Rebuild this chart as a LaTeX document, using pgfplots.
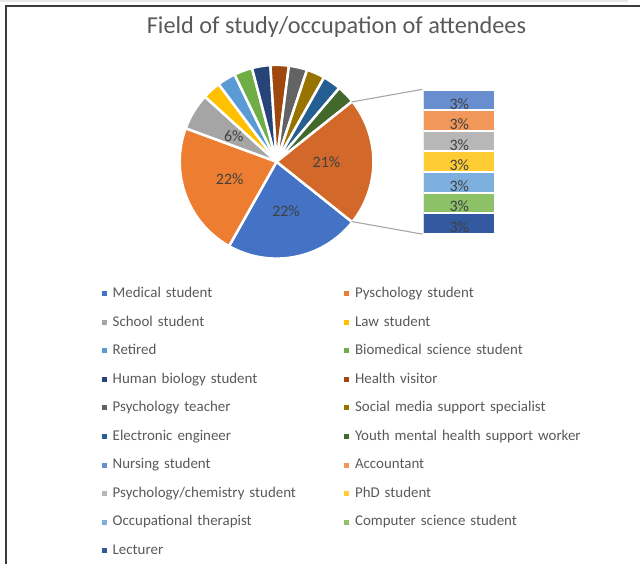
\documentclass[border=0pt]{standalone}
\usepackage{pgfplots}
\pgfplotsset{compat=1.18}
\usepackage{fontspec}
\setmainfont{Carlito}
\definecolor{c1}{HTML}{4472C4}
\definecolor{c2}{HTML}{ED7D31}
\definecolor{c3}{HTML}{A5A5A5}
\definecolor{c4}{HTML}{FFC000}
\definecolor{c5}{HTML}{5B9BD5}
\definecolor{c6}{HTML}{70AD47}
\definecolor{c7}{HTML}{264478}
\definecolor{c8}{HTML}{9E480E}
\definecolor{c9}{HTML}{636363}
\definecolor{c10}{HTML}{997300}
\definecolor{c11}{HTML}{255E91}
\definecolor{c12}{HTML}{43682B}
\definecolor{cother}{HTML}{D2692B}
\definecolor{d1}{HTML}{698ED0}
\definecolor{d2}{HTML}{F1975A}
\definecolor{d3}{HTML}{B7B7B7}
\definecolor{d4}{HTML}{FFCD33}
\definecolor{d5}{HTML}{7CAFDD}
\definecolor{d6}{HTML}{8CC168}
\definecolor{d7}{HTML}{335AA1}
\definecolor{txtgray}{HTML}{595959}
\definecolor{lblgray}{HTML}{404040}
\definecolor{linegray}{HTML}{A6A6A6}
\newcommand\labelfont{\fontsize{16}{19}\selectfont}
% pie: value (percent), colour, label
\pgfmathsetmacro\degper{360/98}
\def\cx{277}\def\cy{403}
\newcommand\slice[3]{%
  \pgfmathsetmacro\aend{\astart-#1*\degper}%
  \pgfmathsetmacro\amid{(\astart+\aend)/2}%
  \edef\temp{\noexpand\fill[#2, draw=white, line width=2.5bp] (axis cs:\cx,\cy) -- ++(\astart:97bp) arc[start angle=\astart, end angle=\aend, radius=97bp] -- cycle;
  \noexpand\path (axis cs:\cx,\cy) ++(\amid:50bp) node[text=lblgray, font=\noexpand\labelfont] {#3};}%
  \temp
  \global\let\astart\aend
}
\begin{document}
\begin{tikzpicture}
\begin{axis}[
  at={(0,0)}, anchor=south west,
  x=1bp, y=1bp, xmin=0, xmax=641, ymin=0, ymax=565,
  hide axis, clip=false,
  legend columns=2,
  legend cell align=left,
  legend image code/.code={\fill[#1, draw=none] (0bp,-2.5bp) rectangle (5bp,2.5bp); \path (10.5bp,0bp);},
  legend style={at={(axis cs:102,278.25)}, anchor=north west, draw=none, fill=none,
    inner sep=0pt, column sep=0pt, row sep=14.1bp,
    font=\fontsize{15}{18}\selectfont, text=txtgray,
    nodes={inner sep=0pt, text width=232bp, text height=11bp, text depth=3.5bp}},
]
\path (axis cs:0,0) rectangle (axis cs:641,565);
% frame
\fill[gray!18] (axis cs:0,562.5) rectangle (axis cs:629,565);
\draw[color={rgb,255:red,60;green,60;blue,60}, line width=2bp] (axis cs:6.5,0) -- (axis cs:6.5,558.5) -- (axis cs:641,558.5);
% title
\node[anchor=base, text=txtgray, font=\fontsize{24.4}{28}\selectfont] at (axis cs:337,531.7) {Field of study/occupation of attendees};
% pie
\pgfmathsetmacro\astart{-10.5*\degper}
\global\let\astart\astart
\slice{22}{c1}{22\%}
\slice{22}{c2}{22\%}
\slice{6}{c3}{6\%}
\slice{3}{c4}{}
\slice{3}{c5}{}
\slice{3}{c6}{}
\slice{3}{c7}{}
\slice{3}{c8}{}
\slice{3}{c9}{}
\slice{3}{c10}{}
\slice{3}{c11}{}
\slice{3}{c12}{}
\slice{21}{cother}{21\%}
% connectors
\draw[linegray, line width=1.1bp] (axis cs:\cx,\cy) ++(10.5*\degper:96bp) -- (axis cs:423,475.5);
\draw[linegray, line width=1.1bp] (axis cs:\cx,\cy) ++(-10.5*\degper:96bp) -- (axis cs:423,330.5);
% legend
\addlegendimage{fill=c1}\addlegendentry{Medical student}
\addlegendimage{fill=c2}\addlegendentry{Pyschology student}
\addlegendimage{fill=c3}\addlegendentry{School student}
\addlegendimage{fill=c4}\addlegendentry{Law student}
\addlegendimage{fill=c5}\addlegendentry{Retired}
\addlegendimage{fill=c6}\addlegendentry{Biomedical science student}
\addlegendimage{fill=c7}\addlegendentry{Human biology student}
\addlegendimage{fill=c8}\addlegendentry{Health visitor}
\addlegendimage{fill=c9}\addlegendentry{Psychology teacher}
\addlegendimage{fill=c10}\addlegendentry{Social media support specialist}
\addlegendimage{fill=c11}\addlegendentry{Electronic engineer}
\addlegendimage{fill=c12}\addlegendentry{Youth mental health support worker}
\addlegendimage{fill=d1}\addlegendentry{Nursing student}
\addlegendimage{fill=d2}\addlegendentry{Accountant}
\addlegendimage{fill=d3}\addlegendentry{Psychology/chemistry student}
\addlegendimage{fill=d4}\addlegendentry{PhD student}
\addlegendimage{fill=d5}\addlegendentry{Occupational therapist}
\addlegendimage{fill=d6}\addlegendentry{Computer science student}
\addlegendimage{fill=d7}\addlegendentry{Lecturer}
\end{axis}
\begin{axis}[
  at={(424bp,331bp)}, anchor=south west, scale only axis,
  width=72bp, height=144bp, hide axis,
  xmin=0.5, xmax=1.5, ymin=0, ymax=21,
  ybar stacked, bar width=72bp,
  point meta=rawy,
  /pgf/number format/assume math mode=true,
  nodes near coords={\pgfmathprintnumber{\pgfplotspointmeta}\%},
  nodes near coords align={center},
  every node near coord/.append style={yshift=-3.8bp, draw=none, text=lblgray, font=\labelfont},
]
\addplot[fill=d7, draw=white, line width=2bp] coordinates {(1,3)};
\addplot[fill=d6, draw=white, line width=2bp] coordinates {(1,3)};
\addplot[fill=d5, draw=white, line width=2bp] coordinates {(1,3)};
\addplot[fill=d4, draw=white, line width=2bp] coordinates {(1,3)};
\addplot[fill=d3, draw=white, line width=2bp] coordinates {(1,3)};
\addplot[fill=d2, draw=white, line width=2bp] coordinates {(1,3)};
\addplot[fill=d1, draw=white, line width=2bp] coordinates {(1,3)};
\end{axis}
\end{tikzpicture}
\end{document}
